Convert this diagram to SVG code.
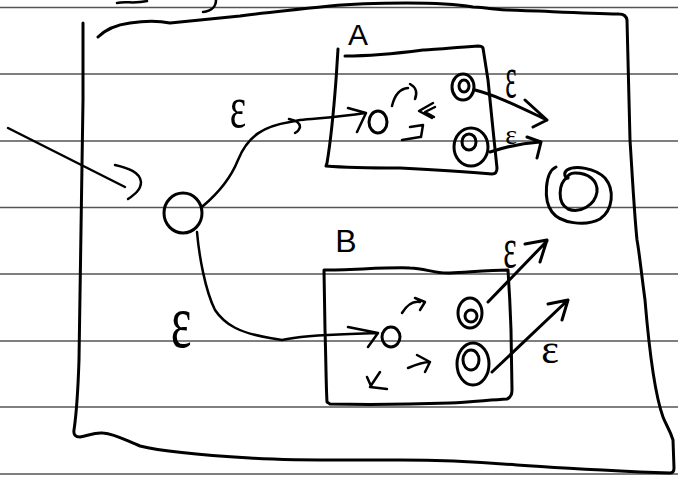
<svg xmlns="http://www.w3.org/2000/svg" width="678" height="477" viewBox="0 0 678 477">
<style>
.rule{stroke:#555;stroke-width:1.5}
.ink{fill:none;stroke:#000;stroke-width:3;stroke-linecap:round;stroke-linejoin:round}
.thin{fill:none;stroke:#000;stroke-width:2.5;stroke-linecap:round;stroke-linejoin:round}
.lbl{font-family:"Liberation Serif",serif;fill:#000;text-anchor:middle}
.cap{font-family:"Liberation Sans",sans-serif;fill:#000}
</style>
<rect width="678" height="477" fill="#fff"/>
<g id="paper">
<line class="rule" x1="0" y1="7.5" x2="678" y2="7.5"/>
<line class="rule" x1="0" y1="74" x2="678" y2="74"/>
<line class="rule" x1="0" y1="141" x2="678" y2="141"/>
<line class="rule" x1="0" y1="207.5" x2="678" y2="207.5"/>
<line class="rule" x1="0" y1="274" x2="678" y2="274"/>
<line class="rule" x1="0" y1="341" x2="678" y2="341"/>
<line class="rule" x1="0" y1="407" x2="678" y2="407"/>
<line class="rule" x1="0" y1="474" x2="678" y2="474"/>
<path class="thin" d="M117,3 C125,1 135,4 147,1 M216,0 C216,6 212,11 203,12"/>
</g>
<g id="outer">
<path class="ink" d="M83,23 L83,100 C82,200 80,300 79,360 C78,390 77,410 74,430 Q73,437 80,437 C88,436 94,432 103,433 C115,434 125,440 140,446 C160,451 200,455 250,458 C300,461 340,460 400,460 C440,460 480,462 517,465 C560,468 600,470 640,472 L670,473 Q674,473 674,468 L673,440 C670,430 666,425 663,417 C655,395 650,360 645,300 C641,270 639,250 637,240 C634,210 632,170 630,140 L627,20 Q626,14 619,14 C580,13 540,11 507,10 C490,9 480,7 473,7 C455,4 430,3 407,3 C380,3 350,4 330,6 C300,9 270,12 240,16 C210,19 190,21 170,23 C160,21 150,20 130,23 C115,25 105,30 98,37"/>
</g>
<g id="boxA">
<path class="ink" d="M338,49 L336,80 C333,120 330,145 327,163 L326,166 C350,168 380,168 400,168 C440,170 470,172 492,174 Q497,174 497,168 C494,140 490,100 488,80 L483,48 Q482,46 478,46 C450,48 430,50 423,50 C400,53 370,56 345,56"/>
<text class="cap" x="358" y="45" font-size="30" text-anchor="middle">A</text>
</g>
<g id="boxB">
<path class="ink" d="M324,270 L325,330 C326,360 326,385 327,402 L330,404 C380,405 420,404 450,403 C470,402 490,400 507,399 Q512,397 512,390 L511,330 C510,300 509,285 508,270 C490,270 470,272 450,273 C435,274 425,268 410,268 C390,267 350,270 324,270"/>
<text class="cap" x="346" y="252" font-size="32" text-anchor="middle">B</text>
</g>
<g id="start">
<ellipse class="ink" cx="183" cy="213" rx="19" ry="20"/>
</g>
<g id="a-start"><ellipse class="ink" cx="378" cy="122" rx="9" ry="11"/></g>
<g id="a-acc1"><ellipse class="ink" cx="463" cy="87" rx="11" ry="13"/><ellipse class="ink" cx="464" cy="86" rx="5" ry="6"/></g>
<g id="a-acc2"><ellipse class="ink" cx="471" cy="147" rx="17" ry="19"/><ellipse class="ink" cx="469" cy="142" rx="7" ry="8"/></g>
<g id="b-start"><ellipse class="ink" cx="391" cy="337" rx="9" ry="10"/></g>
<g id="b-acc1"><ellipse class="ink" cx="470" cy="313" rx="12" ry="15"/><ellipse class="ink" cx="471" cy="316" rx="6" ry="6"/></g>
<g id="b-acc2"><ellipse class="ink" cx="473" cy="364" rx="16" ry="21"/><ellipse class="ink" cx="471" cy="360" rx="8" ry="10"/></g>
<g id="final">
<path class="ink" d="M556,167 C545,172 543,200 552,212 C560,223 585,227 600,219 C613,210 615,190 605,178 C595,168 575,165 567,170 C563,173 565,178 568,178"/>
<path class="ink" d="M568,177 C558,183 557,203 568,209 C580,214 595,205 597,192 C598,180 588,173 575,173 C570,173 567,176 567,178"/>
</g>
<g id="connectors">
<path class="thin" d="M8,128 L125,187 M115,165 C128,168 140,172 141,182 C141,190 134,195 128,199"/>
<path class="thin" d="M203,206 C222,190 232,175 238,160 C248,135 265,126 290,122 L300,120 C320,118 340,117 365,113 M289,119 Q300,121 300,127 Q299,131 295,133 M348,108 L366,113 L357,132"/>
<path class="thin" d="M197,232 C199,255 205,290 215,310 C225,325 240,333 270,338 L282,340 C300,336 320,335 350,334 L377,333 M348,327 L378,333 L368,347"/>
<path class="ink" d="M475,90 C495,95 515,105 547,120 M525,100 L547,120 L533,127"/>
<path class="ink" d="M490,152 C505,147 525,143 540,142 M527,137 L541,142 L537,158"/>
<path class="ink" d="M488,302 L547,241 M525,244 L547,240 L540,262"/>
<path class="ink" d="M492,372 L568,300 M548,304 L568,300 L562,320"/>
<path class="thin" d="M392,106 Q396,89 408,88 M410,84 Q419,89 415,99"/>
<path class="thin" d="M433,103 L419,111 L432,118 M435,107 L425,112 L434,117"/>
<path class="thin" d="M410,127 L423,125 L421,137 M402,140 L420,137"/>
<path class="thin" d="M402,313 Q410,300 420,302 M415,298 L425,302 L420,310"/>
<path class="thin" d="M408,368 C415,365 422,362 430,362 M417,355 L430,362 L425,372"/>
<path class="thin" d="M380,372 L370,387 L387,389 M367,377 L371,386"/>
<text class="lbl" transform="translate(238,127) scale(0.65,1)" font-size="60">ε</text>
<text class="lbl" transform="translate(181,347) scale(0.65,1)" font-size="76">ε</text>
<text class="lbl" transform="translate(511,97) scale(0.45,1)" font-size="60">ε</text>
<text class="lbl" transform="translate(511,144)" font-size="28">ε</text>
<text class="lbl" transform="translate(510,267) scale(0.55,1)" font-size="58">ε</text>
<text class="lbl" transform="translate(550,363)" font-size="42">ε</text>
</g>
</svg>
